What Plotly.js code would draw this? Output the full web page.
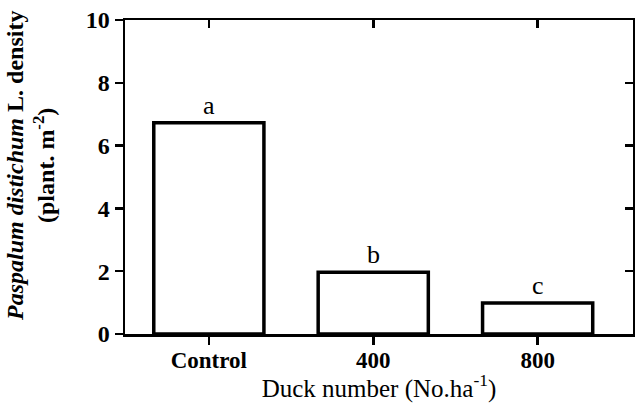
<!DOCTYPE html>
<html>
<head>
<meta charset="utf-8">
<script src="https://cdn.plot.ly/plotly-3.0.1.min.js"></script>
<style>html,body{margin:0;padding:0;background:#fff;}#chart{width:635px;height:403px;}</style>
</head>
<body>
<div id="chart"></div>
<script>
var categories = ["Control", "400", "800"];
var density = [6.73, 1.97, 0.99];
var letters = ["a", "b", "c"];
var yTicks = [0, 2, 4, 6, 8, 10];

var xPos = categories.map(function (c, i) { return i; });
var serif = "'Liberation Serif', 'Times New Roman', Times, serif";

var traces = [
  {
    type: "bar",
    x: xPos,
    y: density,
    width: 0.67,
    marker: { color: "#ffffff", line: { color: "#000000", width: 3.5 } },
    hoverinfo: "skip",
    showlegend: false
  },
  {
    type: "scatter",
    x: xPos,
    y: density,
    xaxis: "x2",
    yaxis: "y2",
    mode: "markers",
    marker: { opacity: 0 },
    hoverinfo: "skip",
    showlegend: false
  }
];

var annotations = categories.map(function (c, i) {
  return {
    x: i, y: density[i], xref: "x", yref: "y",
    text: letters[i], showarrow: false,
    yanchor: "bottom", yshift: 1,
    font: { family: serif, size: 26, color: "#000" }
  };
});
annotations.push({
  xref: "paper", yref: "paper", x: 0, y: 0.5,
  xanchor: "center", yanchor: "middle", xshift: -95, yshift: 11,
  textangle: -90, showarrow: false,
  text: "<b><i>Paspalum distichum</i> L. density<br>(plant. m<sup>-2</sup>)</b>",
  font: { family: serif, size: 24, color: "#000" }
});

var xr = [-0.51, 2.58];
var layout = {
  width: 635, height: 403,
  margin: { l: 125, r: 2, t: 20, b: 69 },
  paper_bgcolor: "#ffffff", plot_bgcolor: "#ffffff",
  showlegend: false,
  font: { family: serif, color: "#000" },
  xaxis: {
    range: xr, tickvals: xPos, ticktext: categories,
    ticks: "outside", ticklen: 8, tickwidth: 2.5, tickcolor: "#000",
    showline: true, linewidth: 2.5, linecolor: "#000",
    showgrid: false, zeroline: false, ticklabelstandoff: -4,
    tickfont: { family: serif, size: 23, color: "#000", weight: "bold" },
    title: { text: "Duck number (No.ha<sup>-1</sup>)", font: { family: serif, size: 25, color: "#000" }, standoff: 8 }
  },
  xaxis2: {
    range: xr, tickvals: xPos, overlaying: "x", side: "top",
    ticks: "inside", ticklen: 8, tickwidth: 2.5, tickcolor: "#000",
    showline: true, linewidth: 2.5, linecolor: "#000",
    showticklabels: false, showgrid: false, zeroline: false
  },
  yaxis: {
    range: [0, 10], tickvals: yTicks,
    ticks: "outside", ticklen: 8, tickwidth: 2.5, tickcolor: "#000",
    showline: true, linewidth: 2.5, linecolor: "#000",
    showgrid: false, zeroline: false,
    tickfont: { family: serif, size: 24, color: "#000", weight: "bold" }
  },
  yaxis2: {
    range: [0, 10], tickvals: yTicks, overlaying: "y", side: "right",
    ticks: "inside", ticklen: 8, tickwidth: 2.5, tickcolor: "#000",
    showline: true, linewidth: 2.5, linecolor: "#000",
    showticklabels: false, showgrid: false, zeroline: false
  },
  annotations: annotations
};

Plotly.newPlot("chart", traces, layout, { displayModeBar: false, staticPlot: true });
</script>
</body>
</html>
